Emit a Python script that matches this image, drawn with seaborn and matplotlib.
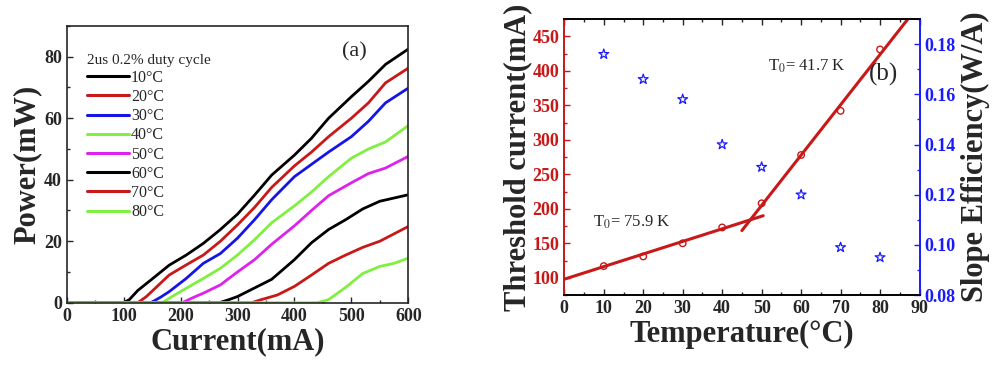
import numpy as np
import pandas as pd
import matplotlib
matplotlib.use("Agg")
import matplotlib.pyplot as plt
from matplotlib.ticker import MultipleLocator
from matplotlib.lines import Line2D
import seaborn as sns

# ---- panel (a): power vs current curves ----
LABELS = ["10°C", "20°C", "30°C", "40°C", "50°C", "60°C", "70°C", "80°C"]
COLORS = ["#000000", "#c81818", "#1515e6", "#80f040", "#dd22ee", "#000000", "#c81818", "#80f040"]

I_10 = [0, 100, 110, 125, 150, 180, 210, 240, 270, 300, 330, 360, 400, 430, 460, 500, 530, 560, 600]
P_10 = [0, 0, 1, 4, 7.7, 12.2, 15.5, 19.3, 23.8, 28.8, 35, 41.5, 48, 53.5, 60, 67, 72, 77.5, 82.5]
I_20 = [0, 125, 140, 160, 180, 210, 240, 270, 300, 330, 360, 400, 430, 460, 500, 530, 560, 600]
P_20 = [0, 0, 2, 5.5, 9, 12.3, 15.5, 20, 25.3, 31, 37.5, 44.5, 49, 54, 60, 65, 71.5, 76.3]
I_30 = [0, 148, 165, 180, 210, 240, 270, 300, 330, 360, 400, 430, 460, 500, 530, 560, 600]
P_30 = [0, 0, 1.8, 3.6, 7.9, 12.8, 16, 21, 27, 33.5, 41, 45, 49, 54, 59, 65, 69.8]
I_40 = [0, 168, 185, 210, 240, 270, 300, 330, 360, 400, 430, 460, 500, 530, 560, 600]
P_40 = [0, 0, 2, 4.7, 7.9, 11.2, 15.5, 20.5, 26, 31.5, 36, 41, 47, 50, 52.3, 57.6]
I_50 = [0, 203, 220, 240, 270, 300, 330, 360, 400, 430, 460, 500, 530, 560, 600]
P_50 = [0, 0, 1.5, 3.1, 5.8, 10, 14, 19, 25, 30, 34.8, 39, 42, 43.8, 47.6]
I_60 = [0, 268, 285, 300, 330, 360, 400, 430, 460, 490, 520, 550, 600]
P_60 = [0, 0, 1, 2, 4.8, 7.6, 14, 19.5, 23.8, 27, 30.5, 33, 35.1]
I_70 = [0, 325, 340, 370, 400, 430, 460, 490, 520, 550, 600]
P_70 = [0, 0, 0.9, 2.5, 5.3, 9, 12.8, 15.5, 18, 20, 24.8]
I_80 = [0, 440, 460, 490, 520, 550, 575, 600]
P_80 = [0, 0, 1, 5, 9.5, 11.8, 12.8, 14.5]

# ---- panel (b): threshold current and slope efficiency vs temperature ----
TEMP = [10, 20, 30, 40, 50, 60, 70, 80]
I_TH = [117, 131, 150, 173, 208, 278, 342, 431]
SLOPE = [0.176, 0.166, 0.158, 0.140, 0.131, 0.120, 0.099, 0.095]
FIT_LO_T = [0, 50.4]
FIT_LO_I = [98, 190]
FIT_HI_T = [45, 90]
FIT_HI_I = [168.5, 496.5]

RED = "#c81818"
BLUE = "#1a1aff"

sns.set_style("ticks")
plt.rcParams["font.family"] = ["Liberation Serif", "DejaVu Serif"]
plt.rcParams["mathtext.fontset"] = "stix"

curves = list(zip([I_10, I_20, I_30, I_40, I_50, I_60, I_70, I_80],
                  [P_10, P_20, P_30, P_40, P_50, P_60, P_70, P_80]))
df = pd.concat(
    [pd.DataFrame({"I": i, "P": p, "key": lab}) for (i, p), lab in zip(curves, LABELS)],
    ignore_index=True,
)

fig = plt.figure(figsize=(10, 3.67), dpi=100)
ax1 = fig.add_axes([0.0667, 0.1752, 0.3416, 0.754])
ax = fig.add_axes([0.5643, 0.196, 0.3552, 0.752])

sns.lineplot(data=df, x="I", y="P", hue="key", palette=dict(zip(LABELS, COLORS)),
             estimator=None, sort=False, linewidth=2.0, legend=False, ax=ax1)

ax1.set_xlim(0, 600)
ax1.set_ylim(0, 90)
ax1.xaxis.set_major_locator(MultipleLocator(100))
ax1.xaxis.set_minor_locator(MultipleLocator(50))
ax1.yaxis.set_major_locator(MultipleLocator(20))
ax1.yaxis.set_minor_locator(MultipleLocator(10))
ax1.tick_params(which="both", direction="in", labelsize=13, width=1)
ax1.tick_params(which="major", length=4)
ax1.tick_params(which="minor", length=2.5)
for lab in ax1.get_xticklabels() + ax1.get_yticklabels():
    lab.set_fontweight("bold")
for s in ax1.spines.values():
    s.set_linewidth(1.2)
ax1.set_xlabel("Current(mA)", fontsize=22, fontweight="bold", labelpad=2)
ax1.set_ylabel("Power(mW)", fontsize=22, fontweight="bold", labelpad=2)
ax1.text(505, 81.5, "(a)", fontsize=16, ha="center", va="center")

handles = [Line2D([], [], color=c, lw=2.2) for c in COLORS]
leg = ax1.legend(handles, LABELS, title="2us 0.2% duty cycle", loc="upper left",
                 bbox_to_anchor=(0.06, 0.9), frameon=False, fontsize=11.5,
                 title_fontsize=11, handlelength=2.6, handletextpad=0.15,
                 labelspacing=0.2, borderaxespad=0, borderpad=0)
leg._legend_box.align = "left"

# ---- panel (b) ----
sns.lineplot(x=FIT_LO_T, y=FIT_LO_I, color=RED, linewidth=2.2, ax=ax)
sns.lineplot(x=FIT_HI_T, y=FIT_HI_I, color=RED, linewidth=2.2, ax=ax)
sns.scatterplot(x=TEMP, y=I_TH, marker="o", s=22, color=RED, facecolor="none",
                edgecolor=RED, linewidth=1.0, ax=ax, zorder=3)
ax.set_xlim(0, 90)
ax.set_ylim(75, 475)
ax.xaxis.set_major_locator(MultipleLocator(10))
ax.xaxis.set_minor_locator(MultipleLocator(5))
ax.yaxis.set_major_locator(MultipleLocator(50))
ax.yaxis.set_minor_locator(MultipleLocator(25))
ax.tick_params(which="both", direction="in", labelsize=13, width=1, top=True)
ax.tick_params(which="major", length=4)
ax.tick_params(which="minor", length=2.5)
ax.tick_params(axis="y", which="both", colors=RED)
for lab in ax.get_xticklabels() + ax.get_yticklabels():
    lab.set_fontweight("bold")
ax.set_xlabel("Temperature(°C)", fontsize=22, fontweight="bold", labelpad=2)
ax.set_ylabel("Threshold current(mA)", fontsize=22, fontweight="bold", labelpad=0)
ax.text(17, 181, r"T$_0$= 75.9 K", fontsize=12, ha="center", va="center")
ax.text(61.5, 406, r"T$_0$= 41.7 K", fontsize=12, ha="center", va="center")
ax.text(81, 395, "(b)", fontsize=18, ha="center", va="center")

ax2 = ax.twinx()
sns.scatterplot(x=TEMP, y=SLOPE, marker="*", s=55, color=BLUE, facecolor="none",
                edgecolor=BLUE, linewidth=0.9, ax=ax2)
ax2.set_ylim(0.08, 0.19)
ax2.yaxis.set_major_locator(MultipleLocator(0.02))
ax2.yaxis.set_minor_locator(MultipleLocator(0.01))
ax2.tick_params(axis="y", which="both", direction="in", colors=BLUE, labelsize=13, width=1)
ax2.tick_params(which="major", length=4)
ax2.tick_params(which="minor", length=2.5)
for lab in ax2.get_yticklabels():
    lab.set_fontweight("bold")
ax2.set_ylabel("Slope Efficiency(W/A)", fontsize=22, fontweight="bold", labelpad=4)

for a in (ax, ax2):
    for s in a.spines.values():
        s.set_linewidth(1.2)
    a.spines["left"].set_color(RED)
    a.spines["right"].set_color(BLUE)
    a.spines["top"].set_color("black")
    a.spines["bottom"].set_color("black")

fig.savefig("out.png", dpi=100)
